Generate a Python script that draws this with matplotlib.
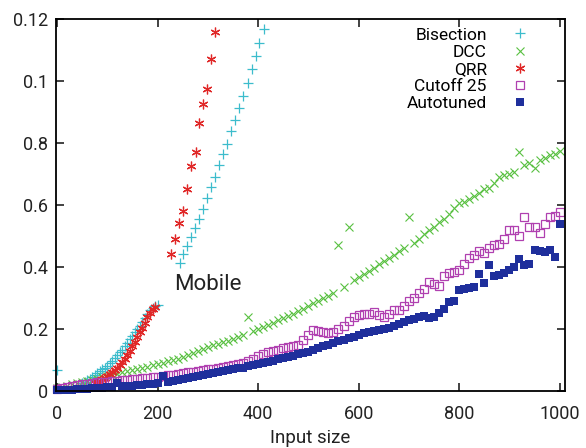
import matplotlib
matplotlib.use("Agg")
import matplotlib.pyplot as plt
import numpy as np

plt.rcParams['font.family'] = ['Roboto', 'DejaVu Sans']

# sizes sampled every 10 for the three "long" series
sizes = list(range(0, 1001, 10))

dcc = [0.010, 0.014, 0.018, 0.022, 0.026, 0.030, 0.033, 0.037, 0.040, 0.044,
       0.048, 0.052, 0.056, 0.060, 0.064, 0.068, 0.072, 0.075, 0.079, 0.084,
       0.088, 0.092, 0.096, 0.100, 0.105, 0.110, 0.116, 0.122, 0.129, 0.135,
       0.142, 0.147, 0.152, 0.158, 0.163, 0.168, 0.174, 0.180, 0.240, 0.193,
       0.200, 0.207, 0.214, 0.221, 0.228, 0.235, 0.242, 0.249, 0.257, 0.266,
       0.275, 0.284, 0.292, 0.300, 0.308, 0.316, 0.472, 0.336, 0.529, 0.358,
       0.368, 0.378, 0.388, 0.398, 0.410, 0.420, 0.430, 0.440, 0.452, 0.460,
       0.560, 0.478, 0.490, 0.505, 0.520, 0.530, 0.545, 0.555, 0.570, 0.590,
       0.605, 0.610, 0.620, 0.630, 0.640, 0.650, 0.655, 0.670, 0.690, 0.695,
       0.700, 0.705, 0.770, 0.730, 0.735, 0.720, 0.745, 0.750, 0.760, 0.765,
       0.775]

cutoff = [0.008, 0.010, 0.012, 0.016, 0.020, 0.022, 0.024, 0.026, 0.028, 0.029,
          0.030, 0.031, 0.033, 0.035, 0.037, 0.038, 0.040, 0.041, 0.043, 0.045,
          0.047, 0.049, 0.051, 0.053, 0.055, 0.058, 0.061, 0.063, 0.066, 0.068,
          0.070, 0.072, 0.074, 0.077, 0.080, 0.083, 0.087, 0.092, 0.098, 0.104,
          0.112, 0.120, 0.126, 0.130, 0.134, 0.138, 0.142, 0.146, 0.150, 0.165,
          0.180, 0.196, 0.194, 0.190, 0.188, 0.190, 0.200, 0.210, 0.225, 0.240,
          0.244, 0.248, 0.250, 0.255, 0.245, 0.240, 0.250, 0.260, 0.260, 0.275,
          0.290, 0.300, 0.315, 0.330, 0.352, 0.345, 0.340, 0.370, 0.380, 0.385,
          0.390, 0.410, 0.430, 0.440, 0.450, 0.445, 0.460, 0.470, 0.475, 0.490,
          0.520, 0.520, 0.500, 0.560, 0.530, 0.528, 0.510, 0.540, 0.560, 0.565,
          0.577]

autotuned = [0.004, 0.004, 0.005, 0.005, 0.006, 0.007, 0.008, 0.009, 0.010, 0.011,
             0.012, 0.014, 0.026, 0.016, 0.017, 0.018, 0.019, 0.021, 0.022, 0.024,
             0.026, 0.050, 0.030, 0.032, 0.035, 0.038, 0.041, 0.045, 0.049, 0.052,
             0.055, 0.058, 0.061, 0.064, 0.067, 0.070, 0.073, 0.076, 0.080, 0.083,
             0.087, 0.091, 0.094, 0.098, 0.102, 0.106, 0.110, 0.114, 0.118, 0.122,
             0.127, 0.133, 0.139, 0.145, 0.150, 0.155, 0.160, 0.165, 0.170, 0.176,
             0.182, 0.186, 0.190, 0.193, 0.196, 0.200, 0.205, 0.210, 0.216, 0.222,
             0.228, 0.232, 0.238, 0.243, 0.236, 0.240, 0.252, 0.265, 0.287, 0.292,
             0.325, 0.328, 0.332, 0.335, 0.379, 0.350, 0.405, 0.370, 0.375, 0.380,
             0.390, 0.400, 0.427, 0.405, 0.411, 0.454, 0.450, 0.448, 0.454, 0.432,
             0.540]

# Bisection: dense part below 200, sparse part above the jump
bis_x = [0, 50, 55, 60, 65, 70, 75, 80, 85, 90, 95, 100, 105, 110, 115, 120,
         125, 130, 135, 140, 145, 150, 155, 160, 165, 170, 175, 180, 185, 190,
         195, 200,
         244, 251, 259, 267, 275, 283, 291, 299, 307, 315, 323, 331, 339, 347,
         355, 362, 371, 379, 388, 396, 402, 411]
bis_y = [0.067, 0.025, 0.030, 0.035, 0.040, 0.046, 0.052, 0.058, 0.064, 0.070,
         0.076, 0.082, 0.089, 0.097, 0.106, 0.116, 0.125, 0.134, 0.145, 0.156,
         0.167, 0.178, 0.189, 0.200, 0.211, 0.222, 0.235, 0.248, 0.260, 0.268,
         0.273, 0.276,
         0.414, 0.443, 0.468, 0.497, 0.526, 0.556, 0.588, 0.624, 0.657, 0.690,
         0.728, 0.763, 0.797, 0.838, 0.875, 0.913, 0.952, 0.992, 1.037, 1.081,
         1.121, 1.166]

qrr_x = [75, 80, 85, 90, 95, 100, 105, 110, 115, 120, 125, 130, 135, 140, 145,
         150, 155, 160, 165, 170, 175, 180, 185, 190, 195,
         227, 235, 243, 250, 259, 267, 276, 282, 291, 299, 306, 315]
qrr_y = [0.025, 0.030, 0.034, 0.038, 0.043, 0.048, 0.055, 0.061, 0.068, 0.075,
         0.083, 0.093, 0.104, 0.116, 0.129, 0.144, 0.158, 0.173, 0.190, 0.205,
         0.221, 0.238, 0.253, 0.265, 0.272,
         0.441, 0.489, 0.541, 0.580, 0.652, 0.726, 0.771, 0.865, 0.925, 0.975,
         1.069, 1.158]

yticks = [0, 0.2, 0.4, 0.6, 0.8, 1.0, 1.2]
ytick_labels = ["0", "0.2", "0.4", "0.6", "0.8", "0.1", "0.12"]
xticks = [0, 200, 400, 600, 800, 1000]

fig = plt.figure(figsize=(5.86, 4.48), dpi=100)
ax = fig.add_axes([0.0956, 0.127, 0.868, 0.831])

ax.plot(bis_x, bis_y, linestyle="none", marker="+", ms=7, mew=0.9,
        color="#3cbccc", label="Bisection", clip_on=False)
ax.plot(sizes, dcc, linestyle="none", marker="x", ms=6, mew=0.8,
        color="#58c040", label="DCC", clip_on=False)
ax.plot(qrr_x, qrr_y, linestyle="none", marker=(6, 2, 0), ms=7, mew=0.9,
        color="#e02828", label="QRR", clip_on=False)
ax.plot(sizes, cutoff, linestyle="none", marker="s", ms=6, mew=0.9,
        mfc="none", color="#b040b0", label="Cutoff 25", clip_on=False)
ax.plot(sizes, autotuned, linestyle="none", marker="s", ms=6, mew=0,
        color="#1f2f9c", label="Autotuned", clip_on=False)

ax.text(300, 0.344, "Mobile", fontsize=16, ha="center", va="center", color="#222222")

ax.set_xlim(-2, 1010)
ax.set_ylim(0, 1.2)
ax.set_xticks(xticks)
ax.set_yticks(yticks)
ax.set_yticklabels(ytick_labels)
ax.tick_params(direction="in", length=6, width=1.2, top=True, right=True,
               labelsize=13, colors="#222222")
ax.tick_params(axis="x", pad=10)
ax.tick_params(axis="y", pad=6)
for s in ax.spines.values():
    s.set_linewidth(1.3)
ax.set_xlabel("Input size", fontsize=13.5, labelpad=4, color="#222222")

leg = ax.legend(loc="upper right", bbox_to_anchor=(0.963, 1.019), frameon=False,
                markerfirst=False, fontsize=12.5, handlelength=1.2,
                handletextpad=1.3, labelspacing=0.12)
for t in leg.get_texts():
    t.set_ha("right")

fig.savefig("out.png", dpi=100)
